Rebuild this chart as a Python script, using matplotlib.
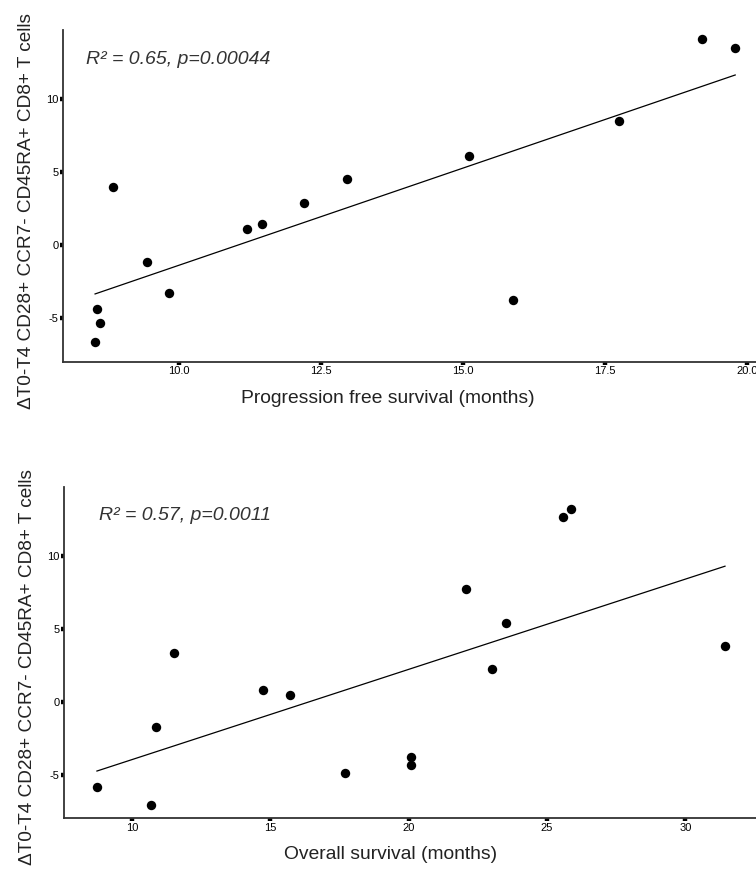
import matplotlib.pyplot as plt
import numpy as np

plt.rcParams['font.family'] = ['Liberation Sans', 'DejaVu Sans']
plt.rcParams['axes.unicode_minus'] = False

# Panel A: progression free survival vs delta T cells
pfs_months = [8.52, 8.55, 8.60, 8.84, 9.43, 9.82, 11.19, 11.46, 12.20, 12.95,
              15.11, 15.87, 17.75, 19.20, 19.79]
pfs_delta = [-6.6, -4.38, -5.3, 4.01, -1.14, -3.29, 1.12, 1.44, 2.92, 4.52,
             6.14, -3.77, 8.53, 14.1, 13.5]

# Panel B: overall survival vs delta T cells
os_months = [8.74, 10.70, 10.89, 11.52, 14.73, 15.73, 17.70, 20.10, 20.10,
             22.08, 23.0, 23.53, 25.56, 25.86, 31.43]
os_delta = [-5.78, -7.03, -1.69, 3.36, 0.82, 0.5, -4.86, -3.77, -4.29,
            7.76, 2.28, 5.41, 12.67, 13.24, 3.84]

pfs_ticks = [10.0, 12.5, 15.0, 17.5, 20.0]
pfs_ticklabels = ["10.0", "12.5", "15.0", "17.5", "20.0"]
os_ticks = [10, 15, 20, 25, 30]
os_ticklabels = ["10", "15", "20", "25", "30"]
y_ticks = [-5, 0, 5, 10]

ylabel = "ΔT0-T4 CD28+ CCR7- CD45RA+ CD8+ T cells"

W, H = 756, 876
fig = plt.figure(figsize=(W / 100, H / 100), dpi=100)


def px_axes(left, right, top, bottom):
    # axes position given in pixel coordinates of the image
    return fig.add_axes([left / W, 1 - bottom / H, (right - left) / W, (bottom - top) / H])


def panel(ax, x, y, xlim, ylim, xticks, xticklabels, xlabel, note, note_xy):
    x = np.asarray(x)
    y = np.asarray(y)
    ax.scatter(x, y, s=46, color='black', zorder=3, linewidths=0)
    # linear fit through the points
    slope, intercept = np.polyfit(x, y, 1)
    xs = np.array([x.min(), x.max()])
    ax.plot(xs, slope * xs + intercept, color='black', linewidth=0.9, zorder=2)

    ax.set_xlim(*xlim)
    ax.set_ylim(*ylim)
    ax.set_xticks(xticks)
    ax.set_xticklabels(xticklabels)
    ax.set_yticks(y_ticks)
    for s in ['top', 'right']:
        ax.spines[s].set_visible(False)
    for s in ['left', 'bottom']:
        ax.spines[s].set_color('#333333')
        ax.spines[s].set_linewidth(1.3)
    ax.tick_params(axis='both', length=2.2, width=3.2, color='black',
                   labelsize=8, labelcolor='black', pad=1.0)

    ax.set_ylabel(ylabel, fontsize=13.7, color='#222222')
    ax.yaxis.set_label_coords(-0.040, 0.455)
    ax.set_xlabel(xlabel, fontsize=13.9, color='#222222')
    ax.text(note_xy[0], note_xy[1], note, transform=ax.transAxes, fontsize=14,
            style='italic', color='#333333', va='center', ha='left')


ax1 = px_axes(62.7, 767, 30, 362)
panel(ax1, pfs_months, pfs_delta, (7.95, 20.35), (-8.0, 14.75),
      pfs_ticks, pfs_ticklabels, "Progression free survival (months)",
      "R² = 0.65, p=0.00044", (0.033, 0.91))
ax1.xaxis.set_label_coords((388 - 62.7) / (767 - 62.7), -0.085)

ax2 = px_axes(64, 756, 486.7, 818.3)
panel(ax2, os_months, os_delta, (7.55, 32.55), (-7.95, 14.77),
      os_ticks, os_ticklabels, "Overall survival (months)",
      "R² = 0.57, p=0.0011", (0.050, 0.912))
ax2.xaxis.set_label_coords((391 - 64) / (756 - 64), -0.085)

fig.savefig('out.png', dpi=100)
